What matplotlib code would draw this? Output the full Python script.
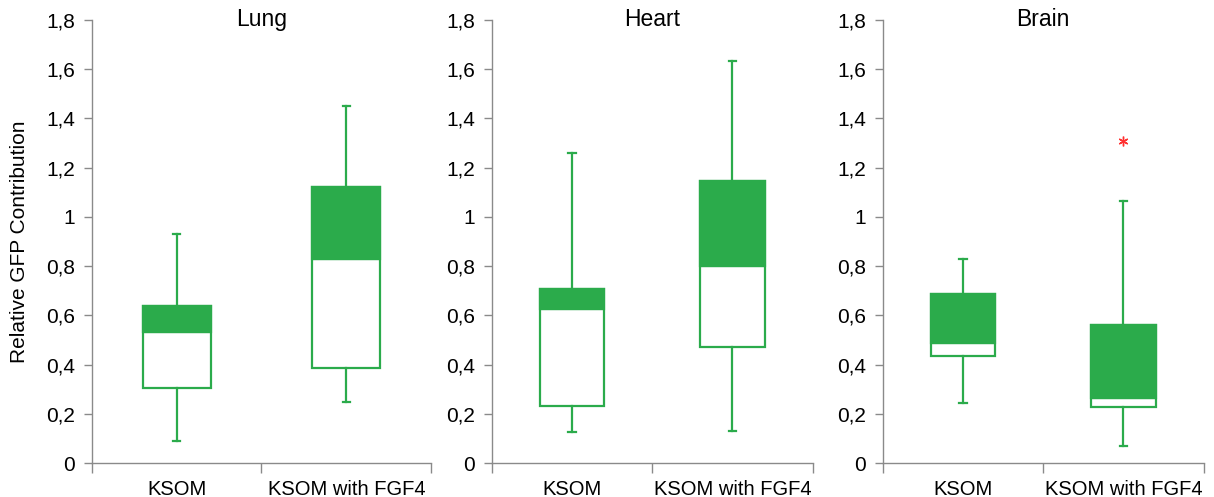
import matplotlib.pyplot as plt
from matplotlib.ticker import FuncFormatter, FixedLocator
import numpy as np

plt.rcParams['font.family'] = ['Liberation Sans', 'DejaVu Sans']

tissues = ['Lung', 'Heart', 'Brain']
groups = ['KSOM', 'KSOM with FGF4']

# per tissue: [KSOM, KSOM with FGF4]
whislo = [[0.09, 0.248], [0.128, 0.132], [0.246, 0.070]]
q1 = [[0.305, 0.386], [0.233, 0.474], [0.436, 0.227]]
med = [[0.532, 0.829], [0.625, 0.801], [0.490, 0.267]]
q3 = [[0.638, 1.12], [0.707, 1.147], [0.688, 0.562]]
whishi = [[0.93, 1.45], [1.258, 1.633], [0.829, 1.064]]
fliers = [[[], []], [[], []], [[], [1.308]]]

green = '#2bab4b'
grey = '#8a8a8a'

fig = plt.figure(figsize=(12.14, 4.97), dpi=100)
rects = [[0.0755, 0.0678, 0.2797, 0.8922],
         [0.405, 0.0678, 0.2644, 0.8922],
         [0.7271, 0.0678, 0.2644, 0.8922]]

fmt = FuncFormatter(lambda v, p: ('%g' % round(v, 2)).replace('.', ','))

for i, t in enumerate(tissues):
    ax = fig.add_axes(rects[i])
    stats = []
    for j, g in enumerate(groups):
        stats.append(dict(whislo=whislo[i][j], q1=q1[i][j], med=med[i][j],
                          q3=q3[i][j], whishi=whishi[i][j], fliers=fliers[i][j], label=g))
    pos = np.arange(1, len(groups) + 1)
    ax.bxp(stats, positions=pos, widths=0.4, patch_artist=True, capwidths=0.045,
           boxprops=dict(facecolor='white', edgecolor=green, linewidth=1.6),
           whiskerprops=dict(color=green, linewidth=1.6),
           capprops=dict(color=green, linewidth=1.6),
           medianprops=dict(color=green, linewidth=1.6),
           flierprops=dict(marker=(6, 2, 0), markeredgecolor='#ff3030',
                           markersize=7, markeredgewidth=1.0))
    # upper half of the box (median to Q3) is filled
    ax.bar(pos, np.array(q3[i]) - np.array(med[i]), bottom=med[i], width=0.4,
           color=green, edgecolor=green, linewidth=1.6, zorder=3)

    ax.set_ylim(0, 1.8)
    ax.set_xlim(0.5, len(groups) + 0.5)
    ax.yaxis.set_major_locator(FixedLocator(np.arange(0, 1.81, 0.2)))
    ax.yaxis.set_major_formatter(fmt)
    ax.set_xticks(pos)
    ax.set_xticklabels(groups)
    ax.xaxis.set_minor_locator(FixedLocator(np.arange(0.5, len(groups) + 0.6, 1)))
    ax.tick_params(axis='x', which='major', length=0, pad=12, labelsize=14.5)
    ax.tick_params(axis='x', which='minor', length=7, width=1, color=grey, direction='out')
    ax.tick_params(axis='y', length=6, width=1, color=grey, direction='out', pad=6, labelsize=15)
    for s in ['top', 'right']:
        ax.spines[s].set_visible(False)
    for s in ['left', 'bottom']:
        ax.spines[s].set_color(grey)
        ax.spines[s].set_linewidth(1)
    ax.text(0.5, 1.0, t, transform=ax.transAxes, ha='center', va='center', fontsize=16.5)
    if i == 0:
        ax.set_ylabel('Relative GFP Contribution', fontsize=15, labelpad=12)

fig.savefig('out.png', dpi=100)
